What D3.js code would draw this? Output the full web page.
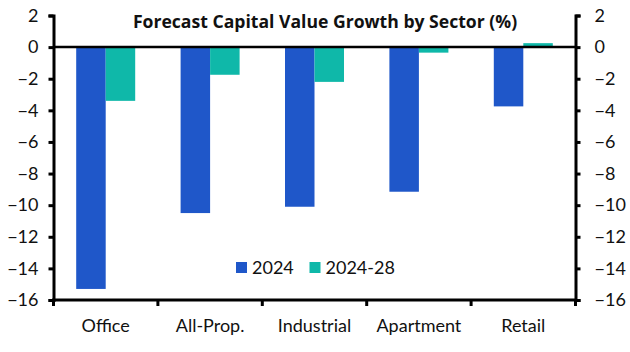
<!DOCTYPE html>
<html>
<head>
<meta charset="utf-8">
<script src="https://cdn.jsdelivr.net/npm/d3@7"></script>
<style>
  body { margin: 0; background: #fff; }
  text { font-family: Lato, "Open Sans", sans-serif; fill: #111; }
</style>
</head>
<body>
<div id="chart"></div>
<script>
// DATA
const sectors = ["Office", "All-Prop.", "Industrial", "Apartment", "Retail"]
const series = ["2024", "2024-28"]
const v2024 = [-15.3, -10.5, -10.1, -9.15, -3.75]
const v2028 = [-3.4, -1.75, -2.2, -0.35, 0.25]
const yTicks = [2, 0, -2, -4, -6, -8, -10, -12, -14, -16]
const colors = ["#1f57c9", "#0fb8a9"]

const W = 630, H = 352
const pLeft = 53.5, pRight = 575.5, pTop = 15.5, pBottom = 300

const svg = d3.select("#chart").append("svg").attr("width", W).attr("height", H)

const x = d3.scaleBand().domain(sectors).range([pLeft, pRight])
const xs = d3.scaleBand().domain(series).range([0, 59]).padding(0)
const y = d3.scaleLinear().domain([2, -16]).range([pTop, pBottom])

const rows = sectors.map((s, i) => ({ name: s, vals: [v2024[i], v2028[i]] }))

// bars
const g = svg.append("g")
rows.forEach(r => {
  series.forEach((k, j) => {
    const v = r.vals[j]
    g.append("rect")
      .attr("x", x(r.name) + (x.bandwidth() - 59) / 2 + xs(k))
      .attr("width", xs.bandwidth())
      .attr("y", y(Math.max(0, v)))
      .attr("height", Math.abs(y(v) - y(0)))
      .attr("fill", colors[j])
  })
})

// zero line
svg.append("line")
  .attr("x1", pLeft).attr("x2", pRight)
  .attr("y1", y(0)).attr("y2", y(0))
  .attr("stroke", "#000").attr("stroke-width", 2.5)

// left axis
const yl = svg.append("g").attr("transform", `translate(${pLeft},0)`)
  .call(d3.axisLeft(y).tickValues(yTicks).tickSize(5).tickPadding(14))
// right axis
const yr = svg.append("g").attr("transform", `translate(${pRight},0)`)
  .call(d3.axisRight(y).tickValues(yTicks).tickSize(5).tickPadding(14))
;[yl, yr].forEach(a => {
  a.select(".domain").attr("stroke", "#000").attr("stroke-width", 3)
  a.selectAll(".tick line").attr("stroke", "#000").attr("stroke-width", 3)
  a.selectAll("text").attr("font-size", 18).attr("fill", "#111")
})
yl.selectAll(".tick text").attr("dx", 4)

// bottom axis
svg.append("line")
  .attr("x1", pLeft - 1.5).attr("x2", pRight + 1.5)
  .attr("y1", pBottom).attr("y2", pBottom)
  .attr("stroke", "#000").attr("stroke-width", 3)
const bounds = sectors.map(s => x(s)).concat([pRight])
svg.selectAll(".xtick").data(bounds).enter().append("line")
  .attr("x1", d => d).attr("x2", d => d)
  .attr("y1", pBottom).attr("y2", pBottom + 6)
  .attr("stroke", "#000").attr("stroke-width", 3)
svg.selectAll(".xlab").data(sectors).enter().append("text")
  .attr("x", d => x(d) + x.bandwidth() / 2)
  .attr("y", 332)
  .attr("text-anchor", "middle")
  .attr("font-size", 18)
  .text(d => d)

// title
svg.append("text")
  .attr("x", 325).attr("y", 28)
  .attr("text-anchor", "middle")
  .attr("font-size", 17.6).attr("font-weight", "bold")
  .style("font-family", "'Open Sans', sans-serif")
  .text("Forecast Capital Value Growth by Sector (%)")

// legend
const lx = [236, 309.5]
series.forEach((k, i) => {
  svg.append("rect").attr("x", lx[i]).attr("y", 262).attr("width", 11).attr("height", 11).attr("fill", colors[i])
  svg.append("text").attr("x", lx[i] + 16).attr("y", 274).attr("font-size", 18).text(k)
})
</script>
</body>
</html>
